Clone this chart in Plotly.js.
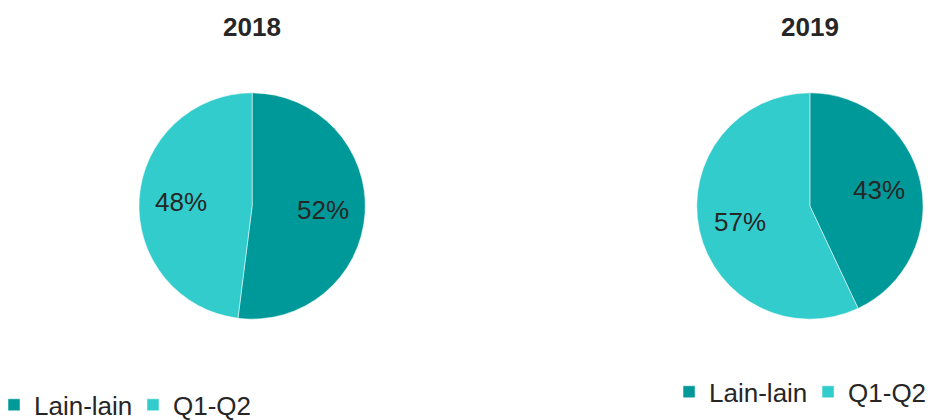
<!DOCTYPE html>
<html>
<head>
<meta charset="utf-8">
<script src="https://cdn.plot.ly/plotly-3.0.1.min.js"></script>
<style>html,body{margin:0;padding:0;background:#fff;}#chart{width:939px;height:420px;}</style>
</head>
<body>
<div id="chart"></div>
<script>
const categories = ["Lain-lain", "Q1-Q2"];
const years = ["2018", "2019"];
const values2018 = [52, 48];
const values2019 = [43, 57];
const colors = ["#009999", "#33CCCC"];

const font = "Liberation Sans, Arial, sans-serif";
const txt = "#262626";
const W = 939, H = 420;
const domains = [
  {x: [0.148, 0.389], y: [0.240, 0.779]},
  {x: [0.742, 0.983], y: [0.240, 0.779]}
];
const seriesValues = [values2018, values2019];
// a zero-width space keeps the second pie's legend entries separate from the first's
const labelSets = [categories, categories.map(c => c + "\u200b")];

const traces = seriesValues.map((vals, i) => ({
  type: "pie", labels: labelSets[i], values: vals, sort: false, direction: "clockwise", rotation: 0,
  marker: {colors: colors, line: {color: "#ffffff", width: 0.5}},
  textinfo: "none",
  domain: domains[i],
  legend: i === 0 ? "legend" : "legend2",
  hoverinfo: "label+percent"
}));

// percent labels placed along each slice's bisector, derived from the values
const annotations = [];
seriesValues.forEach((vals, i) => {
  const d = domains[i];
  const cx = (d.x[0] + d.x[1]) / 2, cy = (d.y[0] + d.y[1]) / 2;
  const rPx = Math.min((d.x[1] - d.x[0]) * W, (d.y[1] - d.y[0]) * H) / 2;
  const total = vals.reduce((a, b) => a + b, 0);
  let cum = 0;
  vals.forEach(v => {
    const mid = (cum + v / 2) / total * 2 * Math.PI;
    cum += v;
    const r = 0.63 * rPx;
    annotations.push({
      text: Math.round(v / total * 100) + "%",
      x: cx + r * Math.sin(mid) / W, y: cy + r * Math.cos(mid) / H,
      xref: "paper", yref: "paper", showarrow: false, xanchor: "center", yanchor: "middle",
      font: {family: font, size: 26, color: txt}
    });
  });
  annotations.push({
    text: "<b>" + years[i] + "</b>", x: cx, y: 0.935, xref: "paper", yref: "paper", showarrow: false,
    font: {family: font, size: 26, color: txt}, xanchor: "center", yanchor: "middle"
  });
});

const legendBase = {orientation: "h", xanchor: "left", yanchor: "middle",
  font: {family: font, size: 26, color: txt}, itemwidth: 30, tracegroupgap: 0,
  entrywidth: 94, entrywidthmode: "pixels", bgcolor: "rgba(0,0,0,0)"};

const layout = {
  width: W, height: H,
  margin: {l: 0, r: 0, t: 0, b: 0, autoexpand: false},
  paper_bgcolor: "#ffffff",
  font: {family: font, color: txt},
  showlegend: true,
  legend: Object.assign({}, legendBase, {x: -0.0064, y: 0.036}),
  legend2: Object.assign({}, legendBase, {x: 0.7125, y: 0.067}),
  annotations: annotations
};

Plotly.newPlot("chart", traces, layout, {displayModeBar: false, staticPlot: true});
</script>
</body>
</html>
